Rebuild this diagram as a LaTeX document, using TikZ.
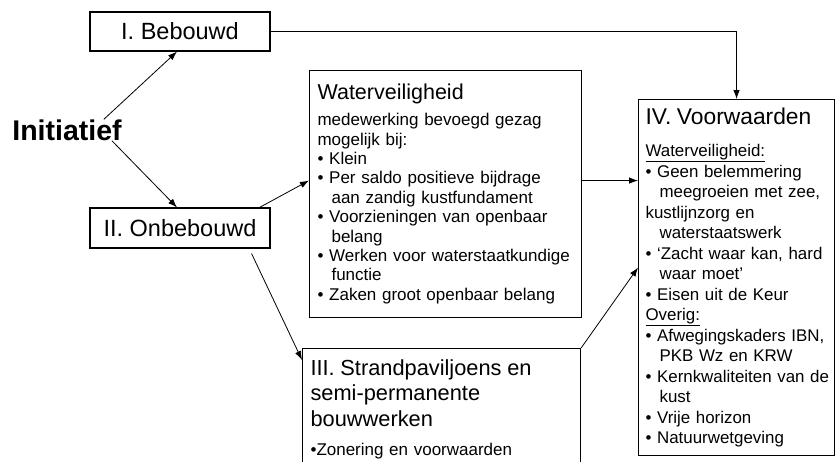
\documentclass[tikz,border=0pt]{standalone}
\usepackage{fontspec}
\setmainfont{Liberation Sans}
\usetikzlibrary{arrows.meta}
\newcommand{\bul}{\textbullet\ }
\newcommand{\ind}{\hspace*{14pt}}
\begin{document}
\begin{tikzpicture}[x=1pt, y=-1pt,
    box/.style = {draw, line width=1.1pt, inner sep=0pt},
    listbox/.style = {box, anchor=north west, align=left, inner xsep=8pt},
    conn/.style = {-{Latex[length=9pt, width=6.5pt]}, line width=0.8pt}]
                \clip (0,0) rectangle (835,461);
                \node[box, minimum width=180pt, minimum height=39pt,
                      font=\fontsize{23.5}{28}\selectfont] (bebouwd) at (180,31.5) {I. Bebouwd};
                \node[box, minimum width=180pt, minimum height=40pt,
                      font=\fontsize{23.5}{28}\selectfont] (onbebouwd) at (180,228) {II. Onbebouwd};
                \node[inner sep=0pt, font=\fontsize{28.5}{34}\selectfont\bfseries] (initiatief) at (67,130) {Initiatief};
                \node[listbox, text width=256pt, minimum height=247pt,
                      font=\fontsize{17}{19.4}\selectfont] (water) at (309,70)
                    {{\fontsize{21.5}{24}\selectfont Waterveiligheid\par}\vspace{6.5pt}
                     medewerking bevoegd gezag\\
                     mogelijk bij:\\
                     \bul Klein\\
                     \bul Per saldo positieve bijdrage\\
                     \ind aan zandig kustfundament\\
                     \bul Voorzieningen van openbaar\\
                     \ind belang\\
                     \bul Werken voor waterstaatkundige\\
                     \ind functie\\
                     \bul Zaken groot openbaar belang};
                \node[listbox, text width=182pt, inner xsep=7pt, minimum height=356pt,
                      font=\fontsize{16.9}{20.5}\selectfont] (voorwaarden) at (638,99)
                    {{\fontsize{22.8}{26}\selectfont IV. Voorwaarden\par}\vspace{11.5pt}
                     \underline{Waterveiligheid:}\\
                     \bul Geen belemmering\\
                     \ind meegroeien met zee,\\
                     kustlijnzorg en\\
                     \ind waterstaatswerk\\
                     \bul ‘Zacht waar kan, hard\\
                     \ind waar moet’\\
                     \bul Eisen uit de Keur\\
                     \underline{Overig:}\\
                     \bul Afwegingskaders IBN,\\
                     \ind PKB Wz en KRW\\
                     \mbox{\bul Kernkwaliteiten van de}\\
                     \ind kust\\
                     \bul Vrije horizon\\
                     \bul Natuurwetgeving};
                \node[listbox, text width=262pt, inner ysep=11pt,
                      font=\fontsize{17}{20}\selectfont] (strand) at (302,348)
                    {{\fontsize{21.8}{25.5}\selectfont III. Strandpaviljoens en\\
                     semi-permanente\\
                     bouwwerken\par}\vspace{9pt}
                     \textbullet Zonering en voorwaarden};
                \draw[conn] ([xshift=-18pt]initiatief.north east) -- ([xshift=-3pt]bebouwd.south);
                \draw[conn] ([xshift=-10pt]initiatief.south east) -- ([xshift=-3pt]onbebouwd.north);
                \draw[conn] ([xshift=-11pt]onbebouwd.north east) -- ([yshift=13.5pt]water.west);
                \draw[conn] ([xshift=-19pt, yshift=-5pt]onbebouwd.south east) -- ([yshift=-12pt]strand.north west);
                \draw[conn] ([yshift=13.5pt]water.east) -- ([yshift=13.5pt]water.east -| voorwaarden.west);
                \draw[conn] (strand.north east) -- ([yshift=10pt]voorwaarden.west);
                \draw[conn] (bebouwd.east) -| (voorwaarden.north);
            \end{tikzpicture}
\end{document}
